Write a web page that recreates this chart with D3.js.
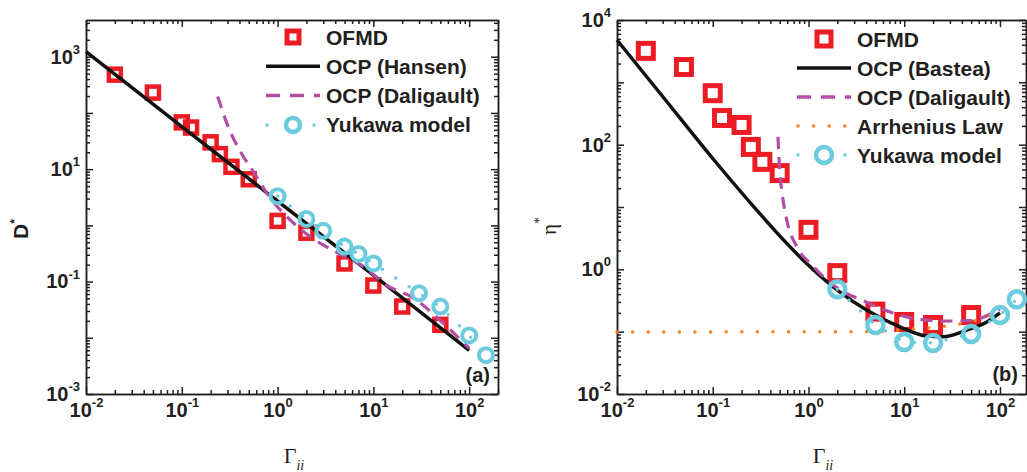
<!DOCTYPE html>
<html>
<head>
<meta charset="utf-8">
<script src="https://d3js.org/d3.v7.min.js"></script>
<style>
  body { margin: 0; background: #fff; }
  svg { display: block; font-family: "Liberation Sans", Arial, sans-serif; }
</style>
</head>
<body>
<svg></svg>
<script>
'use strict';

// ---- panel (a): D* vs Gamma_ii ----
var gammaOfmdA = [0.02, 0.05, 0.1, 0.125, 0.2, 0.25, 0.33, 0.5, 1, 2, 5, 10, 20, 50];
var dOfmd      = [480, 230, 68, 55, 30, 18.5, 11, 6.6, 1.2, 0.74, 0.21, 0.085, 0.036, 0.017];
var gammaHansen = [0.01, 0.1, 1, 10, 100];
var dHansen     = [1230, 57, 2.7, 0.13, 0.006];
var gammaDaliA = [0.237, 0.31, 0.42, 0.59, 0.68, 1.87, 4, 7.9, 13.3, 26.7, 51, 100];
var dDali      = [196, 53, 19, 7.8, 5.2, 0.77, 0.34, 0.184, 0.089, 0.05, 0.0196, 0.0065];
var gammaYukA = [1, 2, 3, 5, 7, 10, 30, 50, 100, 150];
var dYukawa   = [3.3, 1.3, 0.8, 0.42, 0.31, 0.21, 0.062, 0.036, 0.011, 0.0049];

// ---- panel (b): eta* vs Gamma_ii ----
var gammaOfmdB = [0.02, 0.05, 0.1, 0.125, 0.2, 0.25, 0.33, 0.5, 1, 2, 5, 10, 20, 50];
var etaOfmd    = [3200, 1760, 670, 268, 207, 92, 53, 35, 4.3, 0.87, 0.21, 0.143, 0.128, 0.185];
var gammaBastea = [0.01, 0.03, 0.1, 0.3, 0.6, 1, 2.13, 4.08, 9, 17.3, 25.4, 45, 73, 100];
var etaBastea   = [4780, 593, 60, 8.3, 2.56, 1.16, 0.43, 0.22, 0.119, 0.085, 0.083, 0.106, 0.143, 0.2];
var gammaDaliB = [0.48, 0.5, 0.53, 0.6, 0.76, 1.11, 2.13, 3.8, 7.1, 13.7, 25, 47, 100];
var etaDali    = [133, 39, 16.8, 5.7, 2.28, 1.13, 0.47, 0.31, 0.206, 0.16, 0.148, 0.15, 0.23];
var gammaArrh = [0.01, 5, 10, 20, 50, 70, 100];
var etaArrh   = [0.099, 0.1, 0.108, 0.116, 0.145, 0.167, 0.21];
var gammaYukB = [2, 5, 10, 20, 50, 100, 150];
var etaYukawa = [0.48, 0.128, 0.068, 0.066, 0.092, 0.185, 0.33];

// tick labels
var xTickLabels = [1e-2, 1e-1, 1e0, 1e1, 1e2];
var yTickLabelsA = [1e-3, 1e-1, 1e1, 1e3];
var yTickLabelsB = [1e-2, 1e0, 1e2, 1e4];

// legends
var legendA = ['OFMD', 'OCP (Hansen)', 'OCP (Daligault)', 'Yukawa model'];
var legendB = ['OFMD', 'OCP (Bastea)', 'OCP (Daligault)', 'Arrhenius Law', 'Yukawa model'];

var red = '#ec1c24', purple = '#b24fa3', cyan = '#6ccbdd', orange = '#f5821f', ink = '#231f20';

var canvasWidth = 1027;
var canvasHeight = 472;
var svg = d3.select('svg')
  .attr('width', canvasWidth)
  .attr('height', canvasHeight);

function decadeTicks(domain, mults) {
  var t = [];
  var e0 = Math.floor(Math.log10(domain[0])), e1 = Math.ceil(Math.log10(domain[1]));
  for (var e = e0; e <= e1; e++) {
    mults.forEach(function(m) {
      var v = m * Math.pow(10, e);
      if (v >= domain[0] * 0.999 && v <= domain[1] * 1.001) t.push(v);
    });
  }
  return t;
}

function isLabel(labels, d) {
  return labels.some(function(l) { return Math.abs(Math.log10(l) - Math.log10(d)) < 1e-6; });
}

function styleAxis(g) {
  g.attr('color', ink).attr('font-family', '"Liberation Sans", Arial, sans-serif')
    .attr('font-weight', 'bold').attr('font-size', 20);
  g.selectAll('path, line').attr('stroke-width', 1.5);
}

function powerLabels(g, labels, supDy) {
  g.selectAll('.tick text').each(function(d) {
    var t = d3.select(this).text(null);
    if (!isLabel(labels, d)) return;
    t.append('tspan').text('10');
    t.append('tspan').attr('font-size', 13).attr('dy', supDy)
      .text(String(Math.round(Math.log10(d))));
  });
}

function drawAxes(g, x, y, w, h, yLabels) {
  var majX = decadeTicks(x.domain(), [1]), minX = decadeTicks(x.domain(), [2, 3, 4, 5, 6, 7, 8, 9]);
  var majY = decadeTicks(y.domain(), [1]), minY = decadeTicks(y.domain(), [2, 3, 4, 5, 6, 7, 8, 9]);

  //x-axis bottom
  g.append('g').attr('transform', 'translate(0,' + h + ')')
    .call(d3.axisBottom(x).tickValues(minX).tickSizeInner(-4).tickSizeOuter(0).tickFormat(''))
    .call(styleAxis);
  var xb = g.append('g').attr('transform', 'translate(0,' + h + ')')
    .call(d3.axisBottom(x).tickValues(majX).tickSizeInner(-7).tickSizeOuter(0).tickPadding(9))
    .call(styleAxis);
  powerLabels(xb, xTickLabels, '-0.75em');

  //x-axis top
  g.append('g')
    .call(d3.axisTop(x).tickValues(minX).tickSizeInner(-4).tickSizeOuter(0).tickFormat(''))
    .call(styleAxis);
  g.append('g')
    .call(d3.axisTop(x).tickValues(majX).tickSizeInner(-7).tickSizeOuter(0).tickFormat(''))
    .call(styleAxis);

  //y-axis left
  g.append('g')
    .call(d3.axisLeft(y).tickValues(minY).tickSizeInner(-4).tickSizeOuter(0).tickFormat(''))
    .call(styleAxis);
  var yl = g.append('g')
    .call(d3.axisLeft(y).tickValues(majY).tickSizeInner(-7).tickSizeOuter(0).tickPadding(6))
    .call(styleAxis);
  powerLabels(yl, yLabels, '-0.75em');

  //y-axis right
  g.append('g').attr('transform', 'translate(' + w + ',0)')
    .call(d3.axisRight(y).tickValues(minY).tickSizeInner(-4).tickSizeOuter(0).tickFormat(''))
    .call(styleAxis);
  g.append('g').attr('transform', 'translate(' + w + ',0)')
    .call(d3.axisRight(y).tickValues(majY).tickSizeInner(-7).tickSizeOuter(0).tickFormat(''))
    .call(styleAxis);
}

function drawSquares(g, x, y, xs, ys, size, sw) {
  g.append('g').selectAll('rect')
    .data(d3.zip(xs, ys))
    .enter()
    .append('rect')
    .attr('x', function(d) { return x(d[0]) - size / 2; })
    .attr('y', function(d) { return y(d[1]) - size / 2; })
    .attr('width', size)
    .attr('height', size)
    .attr('fill', 'none')
    .attr('stroke', red)
    .attr('stroke-width', sw);
}

function drawCircles(g, x, y, xs, ys, r, sw) {
  g.append('g').selectAll('circle')
    .data(d3.zip(xs, ys))
    .enter()
    .append('circle')
    .attr('cx', function(d) { return x(d[0]); })
    .attr('cy', function(d) { return y(d[1]); })
    .attr('r', r)
    .attr('fill', 'none')
    .attr('stroke', cyan)
    .attr('stroke-width', sw);
}

function drawLine(g, x, y, xs, ys, color, width, dash, curve) {
  var line = d3.line()
    .x(function(d) { return x(d[0]); })
    .y(function(d) { return y(d[1]); })
    .curve(curve || d3.curveLinear);
  g.append('path')
    .datum(d3.zip(xs, ys))
    .attr('d', line)
    .attr('fill', 'none')
    .attr('stroke', color)
    .attr('stroke-width', width)
    .attr('stroke-linecap', dash && dash.indexOf('0,') === 0 ? 'round' : 'butt')
    .attr('stroke-dasharray', dash || null);
}

function drawLegend(x0, y0, rowH, names, sq, r) {
  var lg = svg.append('g');
  names.forEach(function(name, i) {
    var cy = y0 + i * rowH;
    var cx = x0 + 27;
    if (name === 'OFMD') {
      lg.append('rect').attr('x', cx - sq / 2).attr('y', cy - sq / 2).attr('width', sq).attr('height', sq)
        .attr('fill', 'none').attr('stroke', red).attr('stroke-width', 5);
    } else if (name.indexOf('Hansen') > 0 || name.indexOf('Bastea') > 0) {
      lg.append('line').attr('x1', x0).attr('x2', x0 + 54).attr('y1', cy).attr('y2', cy)
        .attr('stroke', '#111').attr('stroke-width', 3.5);
    } else if (name.indexOf('Daligault') > 0) {
      lg.append('line').attr('x1', x0).attr('x2', x0 + 54).attr('y1', cy).attr('y2', cy)
        .attr('stroke', purple).attr('stroke-width', 3.5).attr('stroke-dasharray', '14,10');
    } else if (name.indexOf('Arrhenius') === 0) {
      lg.append('line').attr('x1', x0 + 1).attr('x2', x0 + 54).attr('y1', cy).attr('y2', cy)
        .attr('stroke', orange).attr('stroke-width', 3.5).attr('stroke-linecap', 'round')
        .attr('stroke-dasharray', '0,15.6');
    } else {
      lg.append('line').attr('x1', x0 + 1).attr('x2', x0 + 54).attr('y1', cy).attr('y2', cy)
        .attr('stroke', cyan).attr('stroke-width', 3.5).attr('stroke-linecap', 'round')
        .attr('stroke-dasharray', '0,47');
      lg.append('circle').attr('cx', cx).attr('cy', cy).attr('r', r)
        .attr('fill', 'none').attr('stroke', cyan).attr('stroke-width', 4.5);
    }
    lg.append('text').attr('x', x0 + 60).attr('y', cy).attr('dy', '0.36em')
      .attr('font-weight', 'bold').attr('font-size', 21).attr('fill', ink)
      .text(name);
  });
}

function gammaLabel(cx) {
  var t = svg.append('text').attr('x', cx).attr('y', 463)
    .attr('text-anchor', 'middle').attr('fill', ink)
    .attr('font-family', '"Liberation Serif", "Times New Roman", serif');
  t.append('tspan').attr('font-size', 22).text('\u0393');
  t.append('tspan').attr('font-size', 14).attr('font-style', 'italic').attr('dy', 7).text('ii');
}

// ================= panel (a) =================
var wA = 412, hA = 374;
var gA = svg.append('g').attr('transform', 'translate(86,20)');
var xA = d3.scaleLog().domain([0.01, 200]).range([0, wA]);
var yA = d3.scaleLog().domain([1e-3, 4500]).range([hA, 0]);
drawAxes(gA, xA, yA, wA, hA, yTickLabelsA);

drawSquares(gA, xA, yA, gammaOfmdA, dOfmd, 12, 4.5);
drawLine(gA, xA, yA, gammaHansen, dHansen, '#111', 3.5);
drawLine(gA, xA, yA, gammaDaliA, dDali, purple, 3.2, '12,8', d3.curveMonotoneX);
drawLine(gA, xA, yA, gammaYukA, dYukawa, cyan, 3.5, '0,16');
drawCircles(gA, xA, yA, gammaYukA, dYukawa, 7, 4);

gA.append('text').attr('x', wA - 8).attr('y', hA - 12).attr('text-anchor', 'end')
  .attr('font-weight', 'bold').attr('font-size', 20).attr('fill', ink).text('(a)');

// y label D*
var dl = svg.append('text').attr('transform', 'translate(28,229) rotate(-90)')
  .attr('text-anchor', 'middle').attr('font-weight', 'bold').attr('fill', ink);
dl.append('tspan').attr('font-size', 21).text('D');
dl.append('tspan').attr('font-size', 12).attr('dy', -9).text('*');
gammaLabel(294);

drawLegend(266, 37, 29.3, legendA, 12, 7);

// ================= panel (b) =================
var wB = 409, hB = 374;
var gB = svg.append('g').attr('transform', 'translate(617,20)');
var xB = d3.scaleLog().domain([0.01, 187]).range([0, wB]);
var yB = d3.scaleLog().domain([1e-2, 1e4]).range([hB, 0]);
drawAxes(gB, xB, yB, wB, hB, yTickLabelsB);

drawSquares(gB, xB, yB, gammaOfmdB, etaOfmd, 15, 5);
drawLine(gB, xB, yB, gammaBastea, etaBastea, '#111', 3.5, null, d3.curveMonotoneX);
drawLine(gB, xB, yB, gammaDaliB, etaDali, purple, 3.2, '12,8', d3.curveMonotoneX);
drawLine(gB, xB, yB, gammaArrh, etaArrh, orange, 3.5, '0,15.6', d3.curveMonotoneX);
drawLine(gB, xB, yB, gammaYukB, etaYukawa, cyan, 3.5, '0,16');
drawCircles(gB, xB, yB, gammaYukB, etaYukawa, 8, 4.5);

gB.append('text').attr('x', wB - 8).attr('y', hB - 13).attr('text-anchor', 'end')
  .attr('font-weight', 'bold').attr('font-size', 20).attr('fill', ink).text('(b)');

// y label eta*
var el = svg.append('text').attr('transform', 'translate(556,226) rotate(-90)')
  .attr('text-anchor', 'middle').attr('fill', ink)
  .attr('font-family', '"Liberation Serif", "Times New Roman", serif');
el.append('tspan').attr('font-size', 21).text('\u03b7');
el.append('tspan').attr('font-size', 14).attr('dy', -12).text('*');
gammaLabel(823);

drawLegend(797, 39, 29, legendB, 14, 8);
</script>
</body>
</html>
